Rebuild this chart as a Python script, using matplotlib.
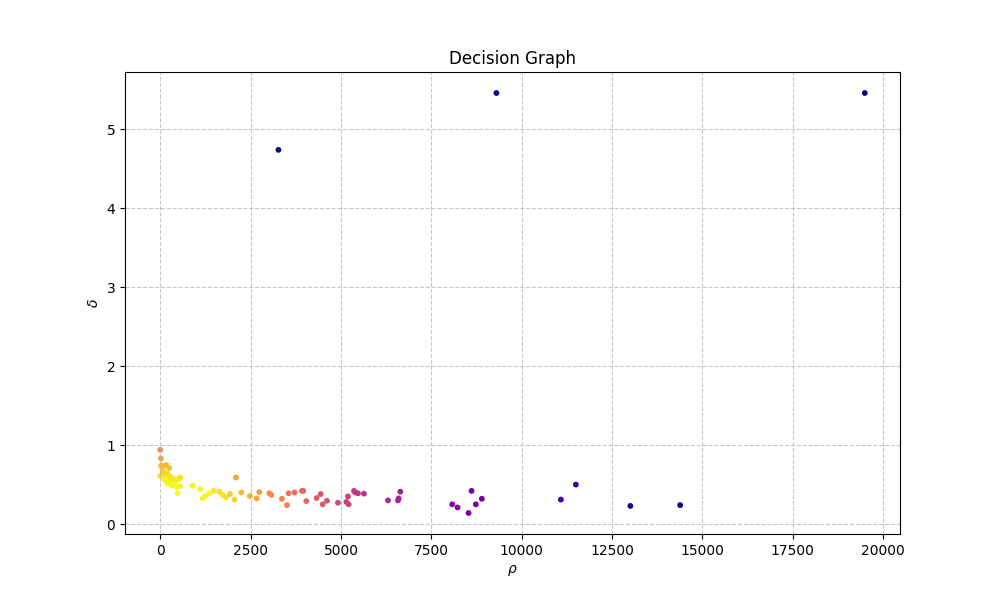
import numpy as np
import matplotlib
matplotlib.use("Agg")
import matplotlib.pyplot as plt
from matplotlib.colors import LogNorm

# densidade local (rho) e distancia (delta) de cada ponto
rho = [0, 20, 45, 160, 250, 30, 90, 140, 185, 230, 277, 323, 415, 490, 194,
       460, 480, 323, 120, 65, 28, 230, 550, 550, 415, 0, 320,
       895, 1108, 1170, 1245, 1356, 1476, 1633, 1725, 1817, 1928, 2057, 2094,
       2242, 2481, 2666, 2740, 3017, 3072, 3367, 3505, 3552, 3718, 3920, 3957,
       4040, 4326, 4437, 4493, 4613, 4917, 5148, 5194, 5212, 5360, 5397, 5470,
       5636, 6300, 6577, 6596, 6642,
       8079, 8226, 8529, 8612, 8731, 8897, 11084, 11498, 13005, 14383,
       3270, 9300, 19490]
delta = [0.94, 0.83, 0.73, 0.75, 0.71, 0.62, 0.66, 0.60, 0.64, 0.56, 0.60, 0.535, 0.57, 0.56, 0.515,
         0.47, 0.39, 0.49, 0.56, 0.68, 0.74, 0.51, 0.59, 0.48, 0.49, 0.61, 0.58,
         0.485, 0.44, 0.325, 0.355, 0.39, 0.42, 0.41, 0.37, 0.34, 0.38, 0.31, 0.59,
         0.40, 0.355, 0.325, 0.405, 0.39, 0.37, 0.32, 0.24, 0.39, 0.40, 0.42, 0.42,
         0.29, 0.33, 0.38, 0.25, 0.295, 0.27, 0.28, 0.35, 0.25, 0.42, 0.40, 0.39,
         0.385, 0.30, 0.30, 0.325, 0.41,
         0.25, 0.21, 0.14, 0.42, 0.25, 0.32, 0.31, 0.50, 0.23, 0.24,
         4.74, 5.46, 5.46]

rho = np.array(rho, dtype=float)
delta = np.array(delta, dtype=float)

# cor pela distancia normalizada a origem
cor = np.sqrt((rho / rho.max()) ** 2 + (delta / delta.max()) ** 2)

plt.figure(figsize=(10, 6))
plt.scatter(rho, delta, c=cor, cmap='plasma_r', norm=LogNorm(vmin=0.1, vmax=0.7), s=10)
plt.title('Decision Graph')
plt.xlabel(r'$\rho$')
plt.ylabel(r'$\delta$')
plt.grid(True, linestyle='--', alpha=0.7)
plt.savefig('out.png', dpi=100)
